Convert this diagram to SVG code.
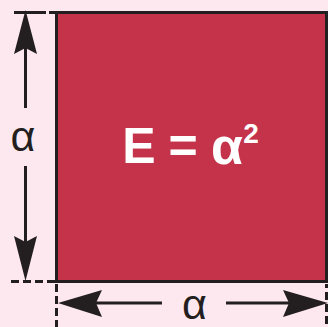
<svg xmlns="http://www.w3.org/2000/svg" width="328" height="327" viewBox="0 0 328 327">
<defs>
<style>
.ln{stroke:#231f20;stroke-width:3;fill:none}
.dash{stroke:#231f20;stroke-width:3;fill:none;stroke-dasharray:8 4}
.head{fill:#231f20}
.lbl{font-family:"Liberation Sans",Arial,sans-serif;font-size:43px;fill:#231f20;text-anchor:middle}
.eq{font-family:"Liberation Sans",Arial,sans-serif;font-weight:bold;fill:#ffffff;text-anchor:middle}
</style>
</defs>
<rect x="0" y="0" width="328" height="327" fill="#fde8f0"/>
<g id="square">
<rect x="56.5" y="12.5" width="270" height="269" fill="#c4334a" stroke="#231f20" stroke-width="3"/>
<text class="eq" x="139" y="163" font-size="50">E</text>
<text class="eq" x="183" y="163" font-size="50">=</text>
<text class="eq" x="227" y="164" font-size="52">α</text>
<text class="eq" x="251" y="143" font-size="28">2</text>
</g>
<g id="connectors">
<line class="ln" x1="14" y1="12.5" x2="46" y2="12.5"/>
<line class="ln" x1="49" y1="12.5" x2="57" y2="12.5"/>
<line class="dash" x1="11" y1="281.5" x2="56" y2="281.5"/>
<line class="dash" x1="56.5" y1="284" x2="56.5" y2="327" stroke-dasharray="7 5"/>
<line class="dash" x1="326.5" y1="284" x2="326.5" y2="327" stroke-dasharray="7 5" stroke-dashoffset="-20"/>
<line class="ln" x1="25.5" y1="40" x2="25.5" y2="108"/>
<line class="ln" x1="25.5" y1="166" x2="25.5" y2="252"/>
<path class="head" d="M25.5,10 L37,54 L25.5,48 L14,54 Z"/>
<path class="head" d="M25.5,281 L37,236 L25.5,242 L14,236 Z"/>
<line class="ln" x1="80" y1="303" x2="162" y2="303"/>
<line class="ln" x1="226" y1="303" x2="305" y2="303"/>
<path class="head" d="M58,303 L102,290 L96,303 L102,317 Z"/>
<path class="head" d="M328,303 L283,290 L289,303 L283,317 Z"/>
</g>
<g id="labels">
<text class="lbl" x="23" y="151">α</text>
<text class="lbl" x="194.5" y="319">α</text>
</g>
</svg>
